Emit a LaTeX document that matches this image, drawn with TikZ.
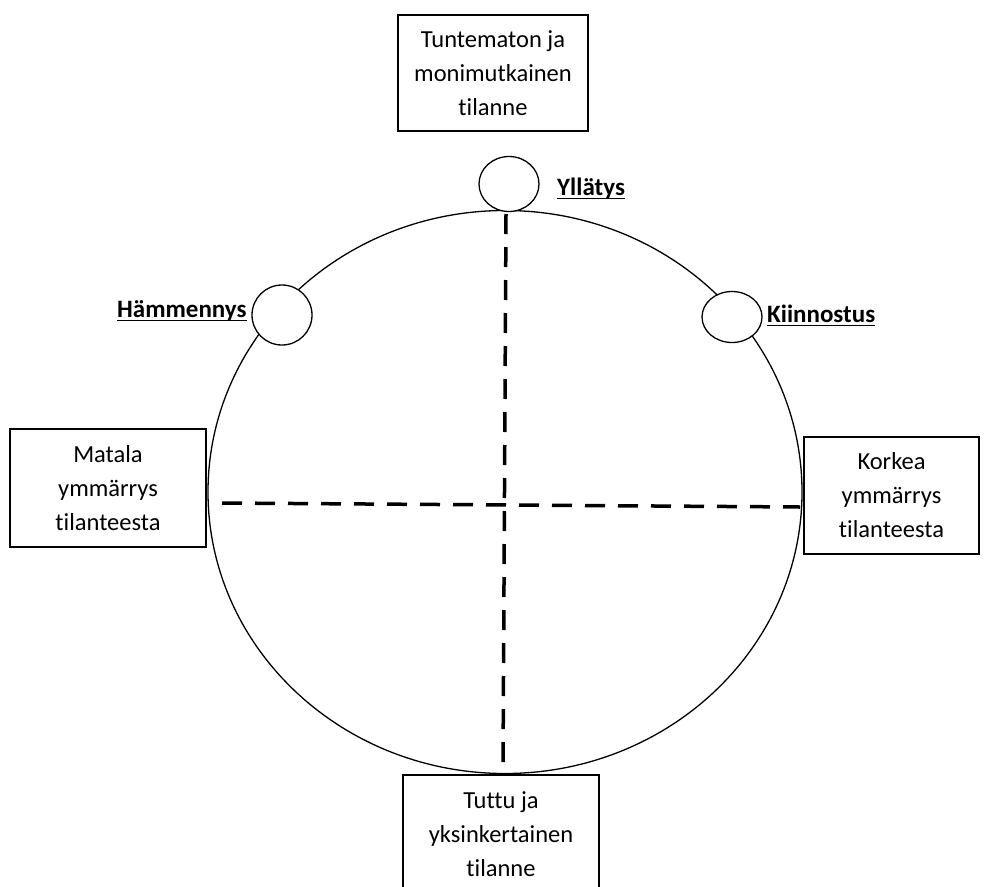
\documentclass[tikz,border=0pt]{standalone}
\usepackage{fontspec}
\setmainfont{Carlito}[RawFeature={-liga}]
\usetikzlibrary{shapes.geometric}
\newcommand{\myul}[1]{\setbox0\hbox{#1}\rlap{\rule[-0.17em]{\wd0}{0.07em}}\box0}
\begin{document}
\begin{tikzpicture}[x=1pt,y=-1pt,
  box/.style={draw, line width=1.3pt, align=center, inner sep=0pt,
    font=\fontsize{24.5}{34}\selectfont},
  smallring/.style={draw, line width=1.3pt, fill=white, ellipse, inner sep=0pt},
  lbl/.style={font=\fontsize{25}{28}\selectfont\bfseries, inner sep=0pt, anchor=base west},
  axis/.style={line width=3.5pt, dash pattern=on 20pt off 13pt}]
\clip (0,0) rectangle (984,886);
\fill[white] (0,0) rectangle (984,886);
% big circle
\node[draw, line width=1.3pt, ellipse, minimum width=594pt, minimum height=563pt, inner sep=0pt] (big) at (505,492) {};
% dashed axes
\coordinate (hl) at (222,503);
\coordinate (hr) at (800,507);
\coordinate (vt) at (506,214);
\coordinate (vb) at (503,768);
\draw[axis] (hl) -- (hr);
\draw[axis] (vt) -- (vb);
% small rings
\node[smallring, minimum width=60pt, minimum height=55pt] (ry) at (509,184) {};
\node[smallring, minimum width=60pt, minimum height=60pt] (rh) at (282,315) {};
\node[smallring, minimum width=60pt, minimum height=51pt] (rk) at (732,317) {};
% labels
\node[lbl] (ly) at (557,195) {\myul{Yllätys}};
\node[lbl] (lh) at (117,317) {\myul{Hämmennys}};
\node[lbl] (lk) at (767,322) {\myul{Kiinnostus}};
% boxes
\node[box, minimum width=190pt, minimum height=116pt] (top) at (493,73) {Tuntematon ja\\monimutkainen\\tilanne};
\node[box, minimum width=196pt, minimum height=118pt] (left) at (108,488) {Matala\\ymmärrys\\tilanteesta};
\node[box, minimum width=175pt, minimum height=117pt] (right) at (891.5,495.5) {Korkea\\ymmärrys\\tilanteesta};
\node[box, minimum width=196pt, minimum height=118pt] (bottom) at (501,834) {Tuttu ja\\yksinkertainen\\tilanne};
\end{tikzpicture}
\end{document}
